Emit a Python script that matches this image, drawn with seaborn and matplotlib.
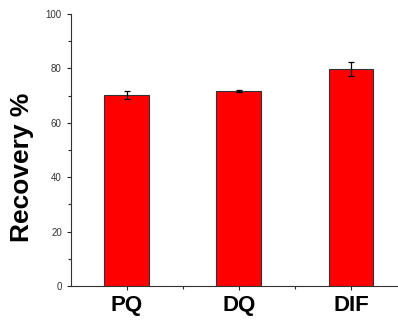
import pandas as pd
import matplotlib.pyplot as plt
import seaborn as sns

# Datos
muestras = ["PQ", "DQ", "DIF"]
recuperacion = [70.3, 71.7, 79.8]
error = [1.5, 0.5, 2.6]

df = pd.DataFrame({"Muestra": muestras, "Recuperacion": recuperacion, "Error": error})

sns.set_style("ticks")
plt.rcParams["font.family"] = ["Liberation Sans", "DejaVu Sans"]

fig = plt.figure(figsize=(3.98, 3.2), dpi=100)
ax = fig.add_axes([0.178, 0.106, 0.822, 0.85])

sns.barplot(data=df, x="Muestra", y="Recuperacion", color="#ff0000",
            saturation=1, width=0.4, edgecolor="#333333", linewidth=0.8,
            errorbar=None, ax=ax)

# Barras de error
ax.errorbar(x=range(len(df)), y=df["Recuperacion"], yerr=df["Error"],
            fmt="none", ecolor="black", elinewidth=0.9, capsize=2.5, capthick=0.9)

ax.set_ylim(0, 100)
ax.set_xlim(-0.5, 2.42)
ax.set_yticks([0, 20, 40, 60, 80, 100])
ax.set_yticks([10, 30, 50, 70, 90], minor=True)
ax.set_xticks([0.5, 1.5], minor=True)

ax.tick_params(axis="y", labelsize=7, labelcolor="#333333", length=3, width=0.8)
ax.tick_params(axis="y", which="minor", length=2, width=0.8)
ax.tick_params(axis="x", labelsize=16, labelcolor="black", length=3, width=0.8)
ax.tick_params(axis="x", which="minor", length=2, width=0.8)
for lab in ax.get_xticklabels():
    lab.set_fontweight("bold")

ax.set_xlabel("")
ax.set_ylabel("Recovery %", fontsize=19, fontweight="bold", color="black")
ax.yaxis.set_label_coords(-0.112, 0.435)

sns.despine(ax=ax)
for s in ["left", "bottom"]:
    ax.spines[s].set_linewidth(0.8)
    ax.spines[s].set_color("#333333")

fig.savefig("out.png", dpi=100)
